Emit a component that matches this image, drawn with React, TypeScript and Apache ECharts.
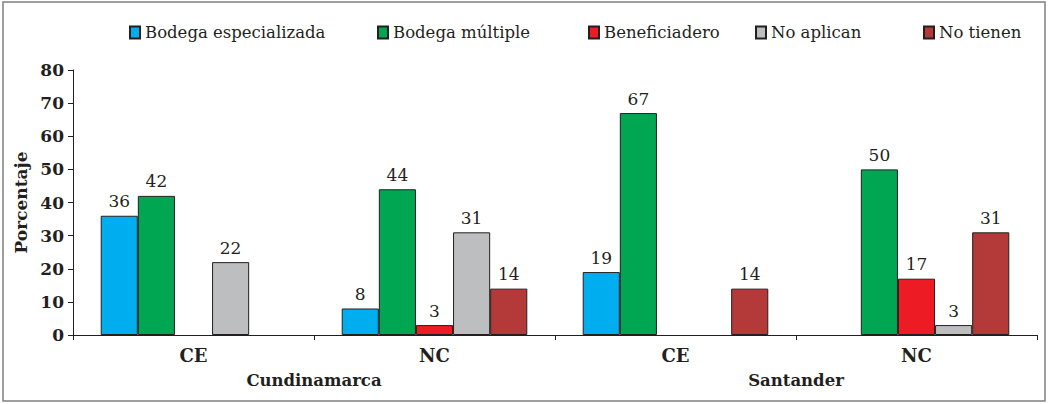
import React, { useEffect, useRef } from "react";
import * as echarts from "echarts";

const categories = ["CE", "NC", "CE", "NC"];
const groups = ["Cundinamarca", "Santander"];
const seriesNames = ["Bodega especializada", "Bodega múltiple", "Beneficiadero", "No aplican", "No tienen"];
const bodegaEspecializada = [36, 8, 19, null];
const bodegaMultiple = [42, 44, 67, 50];
const beneficiadero = [null, 3, null, 17];
const noAplican = [22, 31, null, 3];
const noTienen = [null, 14, 14, 31];
const yTicks = [0, 10, 20, 30, 40, 50, 60, 70, 80];

const colors = ["#00AEEF", "#00A651", "#ED1C24", "#BCBEC0", "#B43A3A"];
const legendLeft = [124, 372, 583, 750, 918];
const FONT = "DejaVu Serif";
const INK = "#231F20";

export default function App() {
  const ref = useRef<HTMLDivElement>(null);
  useEffect(() => {
    if (!ref.current) return;
    const chart = echarts.init(ref.current, undefined, { renderer: "svg" });
    const values = [bodegaEspecializada, bodegaMultiple, beneficiadero, noAplican, noTienen];
    chart.setOption({
      animation: false,
      textStyle: { fontFamily: FONT, color: INK },
      graphic: [
        {
          type: "rect",
          shape: { x: 3, y: 2, width: 1042, height: 399 },
          style: { fill: "none", stroke: "#7f7f7f", lineWidth: 1.5 },
          silent: true,
        },
      ],
      legend: seriesNames.map((n, i) => ({
        data: [n],
        left: legendLeft[i],
        top: 19,
        icon: "rect",
        itemWidth: 10,
        itemHeight: 12,
        itemGap: 8,
        textStyle: { fontFamily: FONT, fontSize: 16.5, color: INK },
        selectedMode: false,
      })),
      grid: { left: 73, right: 12, top: 70, bottom: 69, containLabel: false },
      xAxis: [
        {
          type: "category",
          data: categories,
          axisLine: { lineStyle: { color: INK, width: 1 } },
          axisTick: { show: true, length: 5, lineStyle: { color: INK } },
          axisLabel: { fontFamily: FONT, fontSize: 18, fontWeight: "bold", color: INK, margin: 11 },
        },
        {
          type: "category",
          data: groups,
          position: "bottom",
          offset: 26,
          axisLine: { show: false },
          axisTick: { show: false },
          axisLabel: { fontFamily: FONT, fontSize: 16.5, fontWeight: "bold", color: INK, margin: 11 },
        },
      ],
      yAxis: {
        type: "value",
        min: 0,
        max: 80,
        interval: 10,
        name: "Porcentaje",
        nameLocation: "middle",
        nameGap: 36,
        nameTextStyle: { fontFamily: FONT, fontSize: 17, fontWeight: "bold", color: INK },
        axisLine: { show: true, lineStyle: { color: INK, width: 1 } },
        axisTick: { show: true, length: 5, lineStyle: { color: INK } },
        splitLine: { show: false },
        axisLabel: {
          fontFamily: FONT,
          fontSize: 17,
          fontWeight: "bold",
          color: INK,
          margin: 9,
          formatter: (v: number) => (yTicks.includes(v) ? String(v) : ""),
        },
      },
      series: seriesNames.map((n, i) => ({
        name: n,
        type: "bar",
        data: values[i],
        barGap: "0%",
        barCategoryGap: "23%",
        itemStyle: { color: colors[i], borderColor: INK, borderWidth: 1 },
        label: {
          show: true,
          position: "top",
          distance: 6,
          fontFamily: FONT,
          fontSize: 17,
          color: INK,
        },
      })),
    });
    return () => chart.dispose();
  }, []);
  return (
    <div
      ref={ref}
      style={{ position: "fixed", left: 0, top: 0, width: 1049, height: 404, background: "#fff" }}
    />
  );
}
